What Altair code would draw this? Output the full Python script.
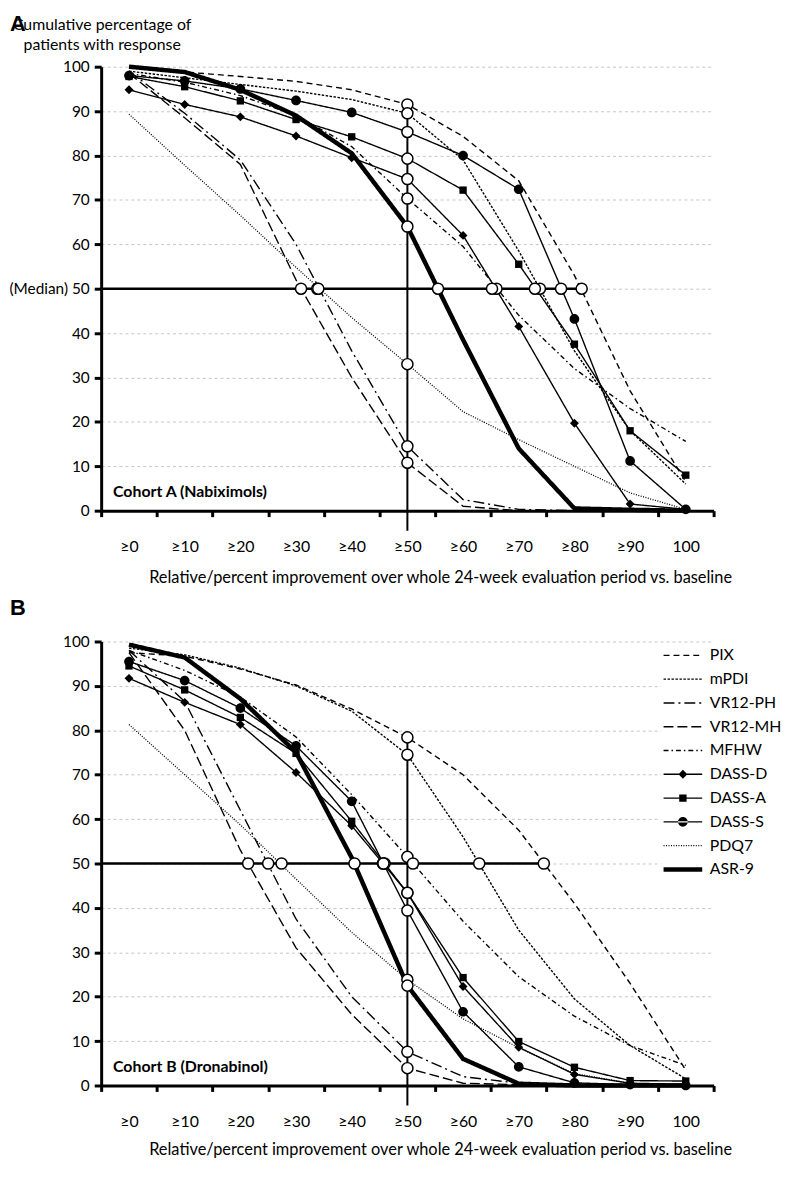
import math
import altair as alt
import pandas as pd

# ---------------- data ----------------
SERIES = ["PIX", "mPDI", "VR12-PH", "VR12-MH", "MFHW", "DASS-D", "DASS-A", "DASS-S", "PDQ7", "ASR-9"]
THRESH = [0, 10, 20, 30, 40, 50, 60, 70, 80, 90, 100]
X_TICK_LABELS = ["≥0", "≥10", "≥20", "≥30", "≥40", "≥50", "≥60", "≥70", "≥80", "≥90", "100"]
X_DOMAIN = [-5, 105]
MEDIAN_LEVEL = 50
FOCUS_THRESHOLD = 50
FOCUS_LINE_BOTTOM = -4.5
Y_TITLE_LINES = ["Cumulative percentage of", "patients with response"]
X_TITLE = "Relative/percent improvement over whole 24-week evaluation period vs. baseline"

# Cohort A (Nabiximols)
A_PIX = [100, 98.8, 97.8, 96.7, 94.8, 91.5, 84.3, 74.3, 53, 27, 6.5]
A_MPDI = [99, 97.5, 96, 94.5, 92.6, 89.5, 79, 58.5, 36, 18, 6]
A_VR12PH = [99, 89.5, 79, 60, 36, 14.5, 2.5, 0.3, 0, 0, 0]
A_VR12MH = [98.5, 88.5, 78, 52, 30, 10.8, 1, 0, 0, 0, 0]
A_MFHW = [98.5, 96.5, 93.5, 89, 82, 70.3, 59.5, 44, 32, 23, 15.6]
A_DASSD = [94.8, 91.5, 88.7, 84.4, 79.5, 74.7, 62, 41.5, 19.7, 1.5, 0.3]
A_DASSA = [97.8, 95.5, 92.3, 88.1, 84.2, 79.3, 72.2, 55.5, 37.5, 18, 8]
A_DASSS = [98, 96.8, 95, 92.4, 89.7, 85.3, 80, 72.4, 43.2, 11.2, 0.3]
A_PDQ7 = [89.3, 77.8, 66.5, 54.8, 43.5, 33, 22.3, 16, 10, 4, 0.3]
A_ASR9 = [100, 98.8, 94.8, 89, 80.5, 64, 38.5, 14, 0.5, 0.2, 0]
A_MEDIAN_X = [81.3, 73.8, 33.8, 30.9, 66.0, 65.2, 72.9, 77.6, 34.0, 55.5]

# Cohort B (Dronabinol)
B_PIX = [97.5, 96.7, 93.8, 90.2, 84.8, 78.4, 70, 57.5, 41, 23, 3.5]
B_MPDI = [98.5, 97, 94, 90, 84.3, 74.5, 56, 35, 19.5, 9, 1.5]
B_VR12PH = [98, 86.5, 62, 37.5, 20, 7.6, 2, 0.5, 0, 0, 0]
B_VR12MH = [97.5, 80, 53, 31, 16, 3.9, 0.5, 0.2, 0, 0, 0]
B_MFHW = [98, 93.5, 87.5, 78.5, 65.5, 51.5, 37, 24.5, 15.6, 9, 4.5]
B_DASSD = [91.7, 86.3, 81.3, 70.5, 58.5, 43.4, 22.3, 8.6, 2.5, 0.5, 0.3]
B_DASSA = [94.5, 89.1, 82.9, 74.8, 59.5, 43.4, 24.3, 9.9, 4.1, 1.1, 1.0]
B_DASSS = [95.5, 91.2, 85, 76.5, 64, 39.4, 16.6, 4.2, 0.6, 0.2, 0]
B_PDQ7 = [81.3, 70, 58.7, 46.5, 34.5, 23.8, 15, 8.5, 2.7, 0.5, 0]
B_ASR9 = [99.3, 96.4, 87.1, 75, 51.3, 22.5, 6, 0.4, 0, 0, 0]
B_MEDIAN_X = [74.5, 62.9, 25.0, 21.4, 51.0, 45.6, 45.9, 45.7, 27.4, 40.5]

# ---------------- styles ----------------
DASHES = [[6, 4], [2.5, 1.5], [11, 4, 2, 4], [10, 4], [5, 3, 1.5, 3], [1, 0], [1, 0], [1, 0],
          [1, 1.5], [1, 0]]
WIDTHS = [1.4, 1.4, 1.4, 1.4, 1.4, 1.4, 1.4, 1.4, 1.3, 4.5]
DIAMOND = "M0,-0.23L0.23,0L0,0.23L-0.23,0Z"
SQUARE = "M-0.19,-0.19H0.19V0.19H-0.19Z"
CIRCLE = "M-0.25,0A0.25,0.25,0,1,0,0.25,0A0.25,0.25,0,1,0,-0.25,0Z"
MARKERS = {"DASS-D": DIAMOND, "DASS-A": SQUARE, "DASS-S": CIRCLE}

FONT = "Lato"
W, H = 618, 448
SYMBOL_AREA = 1521


def legend_symbol(dash, width, marker):
    """Legend key drawn as filled dash rectangles (unit symbol space) plus an optional marker."""
    r = math.sqrt(SYMBOL_AREA) / 2
    total = 2 * r
    hw = width / 2 / r
    parts = []
    if len(dash) < 2 or dash[1] == 0:
        parts.append(f"M-1,{-hw:.3f}H1V{hw:.3f}H-1Z")
    else:
        x, i = 0.0, 0
        while x < total:
            d = dash[i % len(dash)]
            g = dash[(i + 1) % len(dash)]
            x2 = min(x + d, total)
            parts.append(f"M{x / r - 1:.3f},{-hw:.3f}H{x2 / r - 1:.3f}V{hw:.3f}H{x / r - 1:.3f}Z")
            x = x2 + g
            i += 2
    return "".join(parts) + marker


LEGEND_SHAPES = [legend_symbol(d, w, MARKERS.get(s, "")) for s, d, w in zip(SERIES, DASHES, WIDTHS)]

label_array = "[" + ",".join("'" + s + "'" for s in X_TICK_LABELS + [""]) + "]"
X_LABEL_EXPR = label_array + "[round((datum.value + 5) / 10)]"

LEGEND = alt.Legend(orient="none", legendX=565, legendY=2, padding=0, labelFont=FONT,
                    labelFontSize=16, labelColor="black", rowPadding=0, clipHeight=24,
                    symbolSize=SYMBOL_AREA, labelOffset=5, title=None, labelLimit=200,
                    symbolStrokeColor="black", symbolFillColor="black", symbolOpacity=1,
                    fillColor="white", zindex=1)


def text_layer(txt, x, y, size, weight="normal", align="left", font=FONT, baseline="middle"):
    return alt.Chart(pd.DataFrame({"t": [txt]})).mark_text(
        align=align, baseline=baseline, font=font, fontSize=size, fontWeight=weight,
        color="black").encode(x=alt.value(x), y=alt.value(y), text="t:N")


def panel(vals, med_x, letter, cohort, legend, median_label, y_title, x_title_y):
    rows = []
    for s, arr in zip(SERIES, vals):
        for t, v in zip(THRESH, arr):
            rows.append({"series": s, "thr": t, "pct": v})
    df = pd.DataFrame(rows)
    idx50 = THRESH.index(FOCUS_THRESHOLD)
    focus = pd.DataFrame({"series": SERIES, "thr": [FOCUS_THRESHOLD] * len(SERIES),
                          "pct": [arr[idx50] for arr in vals]})
    medians = pd.DataFrame({"thr": med_x, "pct": [MEDIAN_LEVEL] * len(SERIES)})

    y_expr = ("datum.value == 50 ? '(Median) 50' : datum.label") if median_label else "datum.label"
    y_axis = alt.Axis(values=list(range(0, 101, 10)), labelExpr=y_expr, grid=True,
                      gridColor="#c4c4c4", gridDash=[3, 3], gridWidth=1,
                      domainColor="black", domainWidth=3, tickColor="black", tickWidth=3,
                      tickSize=7, labelFont=FONT, labelFontSize=15.5, labelColor="black",
                      labelPadding=5)
    y_enc = alt.Y("pct:Q", scale=alt.Scale(domain=[0, 100], nice=False), axis=y_axis, title=None)

    x_axis = alt.Axis(values=list(range(-5, 106, 10)), labelExpr=X_LABEL_EXPR, labelOffset=28,
                      labelFlush=False, labelOverlap=False, grid=False, domainColor="black",
                      domainWidth=3, tickColor="black", tickWidth=3, tickSize=6,
                      labelPadding=22, labelFont=FONT, labelFontSize=16, labelColor="black",
                      titleX=342, titleY=x_title_y, titleBaseline="middle", titleAlign="center",
                      titleFont=FONT, titleFontSize=16.5, titleFontWeight="normal",
                      titleColor="black")
    x_enc = alt.X("thr:Q", scale=alt.Scale(domain=X_DOMAIN, nice=False, zero=False),
                  axis=x_axis, title=X_TITLE)

    leg = LEGEND if legend else None

    lines = alt.Chart(df).mark_line(color="black", strokeCap="butt").encode(
        x=x_enc, y=y_enc,
        strokeDash=alt.StrokeDash("series:N", scale=alt.Scale(domain=SERIES, range=DASHES),
                                  legend=leg),
        strokeWidth=alt.StrokeWidth("series:N",
                                    scale=alt.Scale(type="ordinal", domain=SERIES, range=WIDTHS),
                                    legend=leg),
        order="thr:Q",
    )
    # invisible layer that only feeds the legend its line+marker keys
    legend_feed = alt.Chart(focus).mark_point(
        opacity=0, filled=True, fill="black", stroke="black", size=SYMBOL_AREA).encode(
        x="thr:Q", y="pct:Q",
        shape=alt.Shape("series:N", scale=alt.Scale(domain=SERIES, range=LEGEND_SHAPES),
                        legend=leg),
    )
    marker_layers = [
        alt.Chart(df[df["series"] == s]).mark_point(
            shape=p, filled=True, color="black", size=SYMBOL_AREA, strokeWidth=0,
            opacity=1).encode(x="thr:Q", y="pct:Q")
        for s, p in MARKERS.items()
    ]
    hrule = alt.Chart(pd.DataFrame({"x": [X_DOMAIN[0]], "y": [MEDIAN_LEVEL],
                                    "x2": [max(med_x)]})).mark_rule(
        color="black", strokeWidth=2.5).encode(x="x:Q", x2="x2:Q", y="y:Q")
    vrule = alt.Chart(pd.DataFrame({"x": [FOCUS_THRESHOLD], "y": [FOCUS_LINE_BOTTOM],
                                    "y2": [focus["pct"].max()]})).mark_rule(
        color="black", strokeWidth=2, clip=False).encode(x="x:Q", y="y:Q", y2="y2:Q")
    circ_style = dict(shape="circle", filled=True, fill="white", stroke="black",
                      strokeWidth=1.5, size=125, opacity=1)
    c50 = alt.Chart(focus).mark_point(**circ_style).encode(x="thr:Q", y="pct:Q")
    cmed = alt.Chart(medians).mark_point(**circ_style).encode(x="thr:Q", y="pct:Q")

    layers = [lines, legend_feed] + marker_layers + [
        hrule, vrule, c50, cmed,
        text_layer(cohort, 12, 429, 16, "bold"),
        text_layer(letter, -92, -53 if y_title else -44, 22, "bold",
                   font="Liberation Sans", baseline="top")]
    if y_title:
        layers.append(text_layer(y_title[0], 1, -42, 16, align="center"))
        layers.append(text_layer(y_title[1], 1, -22, 16, align="center"))
    return alt.layer(*layers).properties(width=W, height=H)


pa = panel([A_PIX, A_MPDI, A_VR12PH, A_VR12MH, A_MFHW, A_DASSD, A_DASSA, A_DASSS, A_PDQ7, A_ASR9],
           A_MEDIAN_X, "A", "Cohort A (Nabiximols)", False, True, Y_TITLE_LINES, 67)
pb = panel([B_PIX, B_MPDI, B_VR12PH, B_VR12MH, B_MFHW, B_DASSD, B_DASSA, B_DASSS, B_PDQ7, B_ASR9],
           B_MEDIAN_X, "B", "Cohort B (Dronabinol)", True, False, None, 65)

chart = alt.vconcat(pa, pb, spacing=132, bounds="flush").resolve_scale(
    strokeDash="independent", strokeWidth="independent", shape="independent").resolve_legend(
    strokeDash="independent", strokeWidth="independent", shape="independent").properties(
    padding={"left": 0, "top": 0, "right": 0, "bottom": 0}).configure_view(strokeWidth=0)

chart.save("out.html", embed_options={"renderer": "svg", "actions": False})
